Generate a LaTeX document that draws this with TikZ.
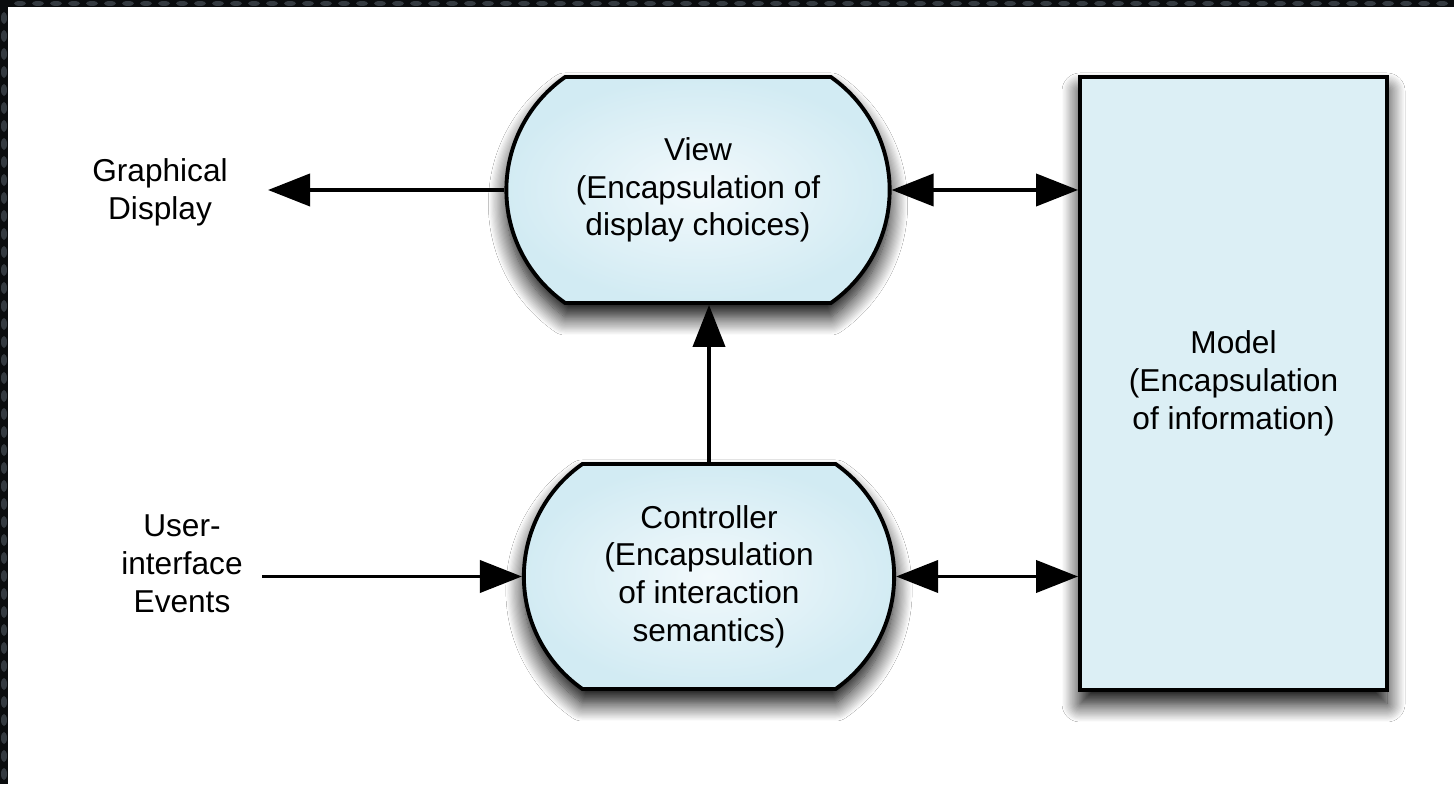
\documentclass[tikz,border=0pt]{standalone}
\usepackage{fontspec}
\setmainfont{Liberation Sans}
\usetikzlibrary{positioning,shapes.misc,shadows.blur,arrows.meta}

\definecolor{boxlight}{RGB}{242,249,252}
\definecolor{boxblue}{RGB}{210,235,243}
\definecolor{modelblue}{RGB}{220,239,245}
\definecolor{frameink}{RGB}{10,12,14}
\definecolor{framebump}{RGB}{52,58,64}

\begin{document}
\begin{tikzpicture}[
  font=\fontsize{18}{21.5}\selectfont,
  box/.style={draw,line width=2.2pt,
    blur shadow={shadow xshift=0pt,shadow yshift=-0.28cm,shadow blur radius=0.36cm,
      shadow blur steps=16,shadow opacity=100}},
  pill/.style={box,rounded rectangle,rounded rectangle arc length=110,
    inner color=boxlight,outer color=boxblue,align=center},
  tip/.tip={Triangle[length=0.84cm,width=0.64cm]},
  conn/.style={line width=2.2pt,-tip},
  both/.style={line width=2.2pt,tip-tip}
]
\useasboundingbox (0,0) rectangle (29.08,15.68);
\fill[white] (0,0) rectangle (29.08,15.68);

% dark frame along the top and left edges
\fill[frameink] (0,0) rectangle (0.16,15.68);
\fill[frameink] (0,15.54) rectangle (29.08,15.68);
\foreach \y in {0.2,0.56,...,15.5}
  \fill[framebump] (0.08,\y) ellipse (0.06 and 0.12);
\foreach \x in {0.4,0.76,...,29}
  \fill[framebump] (\x,15.61) ellipse (0.12 and 0.05);

\node[pill,minimum width=7.9cm,minimum height=4.52cm] (view) at (13.96,11.88)
  {View\\(Encapsulation of\\display choices)};
\node[pill,minimum width=7.64cm,minimum height=4.5cm] (ctrl) at (14.18,4.15)
  {Controller\\(Encapsulation\\of interaction\\semantics)};
\node[box,rectangle,fill=modelblue,minimum width=6.14cm,minimum height=12.26cm,
  align=center] (model) at (24.67,8.01)
  {Model\\(Encapsulation\\of information)};

\node[align=center] (gd) at (3.2,11.84) {Graphical\\Display};
\node[align=center] (ui) at (3.64,4.40) {User-\\interface\\Events};
\coordinate (gdend) at (5.36,11.88);
\coordinate (uistart) at (5.24,4.15);

\path (view.west) edge[conn] (gdend)
  (uistart) edge[conn] (ctrl.west)
  (ctrl.north) edge[conn] (ctrl.north |- view.south)
  (view.east) edge[both] (view.east -| model.west)
  (ctrl.east) edge[both] (ctrl.east -| model.west);

\end{tikzpicture}
\end{document}
